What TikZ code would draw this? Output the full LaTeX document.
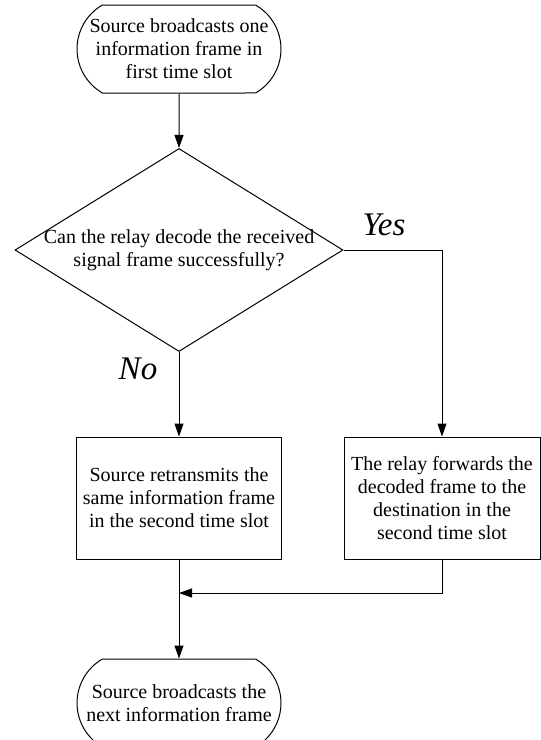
\documentclass[tikz,border=0pt]{standalone}
\usepackage{fontspec}
\setmainfont{Liberation Serif}
\usepackage{tikz}
\usetikzlibrary{shapes.geometric,shapes.misc,arrows.meta}
\usetikzlibrary{positioning}

\begin{document}
\begin{tikzpicture}[x=.5pt,y=-.5pt,line width=.5pt,
  term/.style={draw,rounded rectangle,rounded rectangle arc length=120,minimum width=88pt,minimum height=44pt,inner xsep=-7pt,align=center,font=\fontsize{10}{11.5}\selectfont},
  test/.style={draw,diamond,aspect=1.616,minimum width=164pt,minimum height=101.5pt,inner xsep=-3pt,inner ysep=0pt,align=center,font=\fontsize{10}{11.5}\selectfont},
  act/.style={draw,rectangle,minimum height=61pt,align=center,font=\fontsize{10}{11.5}\selectfont},
  lab/.style={font=\fontsize{16.5}{19}\selectfont\itshape},
  arr/.style={-{Triangle[length=6.5pt,width=4.5pt]}}]
\useasboundingbox (0,0) rectangle (541,740);
\node[term] (start) at (179,49) {Source broadcasts one\\information frame in\\first time slot};
\node[test] (dec) at (179,250) {Can the relay decode the received\\signal frame successfully?};
\node[act,minimum width=102.5pt] (retx) at (179,498) {Source retransmits the\\same information frame\\in the second time slot};
\node[act,minimum width=98pt] (fwd) at (442,498) {The relay forwards the\\decoded frame to the\\destination in the\\second time slot};
\node[term] (stop) at (179,703) {Source broadcasts the\\next information frame};
\node[lab] (yes) at (384,225) {Yes};
\node[lab] (no) at (138,369) {No};
\coordinate (join) at (179,593);
\draw[arr] (start) -- (dec);
\draw[arr] (dec.south) -- (retx.north);
\draw[arr] (dec.east) -| (fwd.north);
\draw[arr] (retx.south) -- (stop.north);
\draw[arr] (fwd.south) |- (join);
\end{tikzpicture}
\end{document}
